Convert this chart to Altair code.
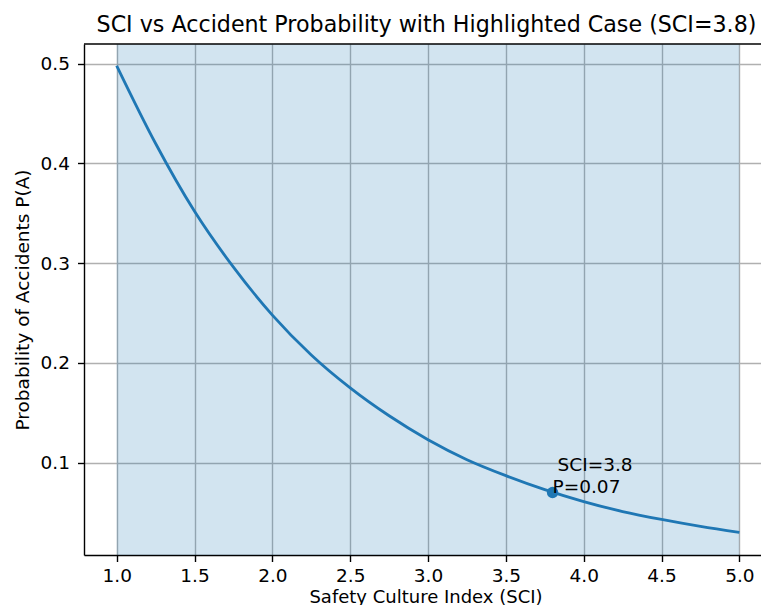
import altair as alt
import pandas as pd

# Values
sci = [1.0, 1.25, 1.5, 1.75, 2.0, 2.25, 2.5, 2.75, 3.0, 3.25, 3.5, 3.75, 4.0, 4.25, 4.5, 4.75, 5.0]
prob = [0.498, 0.420, 0.352, 0.296, 0.248, 0.208, 0.175, 0.147, 0.123, 0.103, 0.087, 0.073, 0.061, 0.051, 0.043, 0.036, 0.030]

span_start = [1.0]
span_end = [5.0]

hl_sci = [3.8]
hl_p = [0.07]
hl_labels = ["SCI=3.8", "P=0.07"]

x_ticks = [1.0, 1.5, 2.0, 2.5, 3.0, 3.5, 4.0, 4.5, 5.0]
y_ticks = [0.1, 0.2, 0.3, 0.4, 0.5]

W, H = 677, 511
BLUE = "#1f77b4"
FONT = "DejaVu Sans"
FS = 18.5

curve_df = pd.DataFrame({"SCI": sci, "P": prob})
span_df = pd.DataFrame({"x": span_start, "x2": span_end})
pt_df = pd.DataFrame({"SCI": hl_sci, "P": hl_p})
lab_df = pd.DataFrame({"SCI": hl_sci * 2, "P": hl_p * 2, "label": hl_labels, "line": [0, 1]})

xscale = alt.Scale(domain=[0.79, 5.139], nice=False, zero=False)
yscale = alt.Scale(domain=[0.0074, 0.5198], nice=False, zero=False)

xaxis = alt.Axis(values=x_ticks, format=".1f", title="Safety Culture Index (SCI)",
                 labelPadding=5, titleX=341.5, titleY=47, titleBaseline="alphabetic",
                 titleFontSize=18)
yaxis = alt.Axis(values=y_ticks, format=".1f", title="Probability of Accidents P(A)",
                 labelPadding=8, titleX=-56, titleBaseline="alphabetic")

span = alt.Chart(span_df).mark_rect(color=BLUE, opacity=0.2).encode(
    x=alt.X("x:Q", scale=xscale, axis=xaxis),
    x2="x2:Q",
    y=alt.value(0),
    y2=alt.value(H),
)

line = alt.Chart(curve_df).mark_line(color=BLUE, strokeWidth=2.8, interpolate="monotone").encode(
    x=alt.X("SCI:Q", scale=xscale, axis=xaxis),
    y=alt.Y("P:Q", scale=yscale, axis=yaxis),
)

point = alt.Chart(pt_df).mark_point(filled=True, color=BLUE, opacity=1, size=130, shape="circle").encode(
    x=alt.X("SCI:Q", scale=xscale),
    y=alt.Y("P:Q", scale=yscale),
)

lab1 = alt.Chart(lab_df).transform_filter("datum.line == 0").mark_text(
    align="left", baseline="alphabetic", dx=5, dy=-22, fontSize=FS, font=FONT, color="black"
).encode(x=alt.X("SCI:Q", scale=xscale), y=alt.Y("P:Q", scale=yscale), text="label:N")

lab2 = alt.Chart(lab_df).transform_filter("datum.line == 1").mark_text(
    align="left", baseline="alphabetic", dx=0, dy=0, fontSize=FS, font=FONT, color="black"
).encode(x=alt.X("SCI:Q", scale=xscale), y=alt.Y("P:Q", scale=yscale), text="label:N")

top_spine = alt.Chart(span_df).mark_rule(color="black", strokeWidth=1.4).encode(
    x=alt.value(0), x2=alt.value(W), y=alt.value(0)
)

chart = alt.layer(span, line, point, lab1, lab2, top_spine).properties(
    width=W,
    height=H,
    autosize=alt.AutoSizeParams(type="none"),
    padding={"left": 76, "top": 36, "right": 0, "bottom": 50},
    title=alt.TitleParams(
        "SCI vs Accident Probability with Highlighted Case (SCI=3.8)",
        font=FONT, fontSize=22.2, fontWeight="normal", color="black",
        anchor="middle", dx=4, offset=7,
    ),
).configure_view(stroke=None).configure_axis(
    labelFont=FONT, titleFont=FONT, labelFontSize=FS, titleFontSize=FS,
    labelColor="black", titleColor="black", titleFontWeight="normal",
    domainColor="black", domainWidth=1.4, tickColor="black", tickWidth=1.4, tickSize=6.5,
    gridColor="#b0b0b0", gridWidth=1.4, gridOpacity=1,
)

chart.save("out.html", embed_options={"renderer": "svg", "actions": False})
